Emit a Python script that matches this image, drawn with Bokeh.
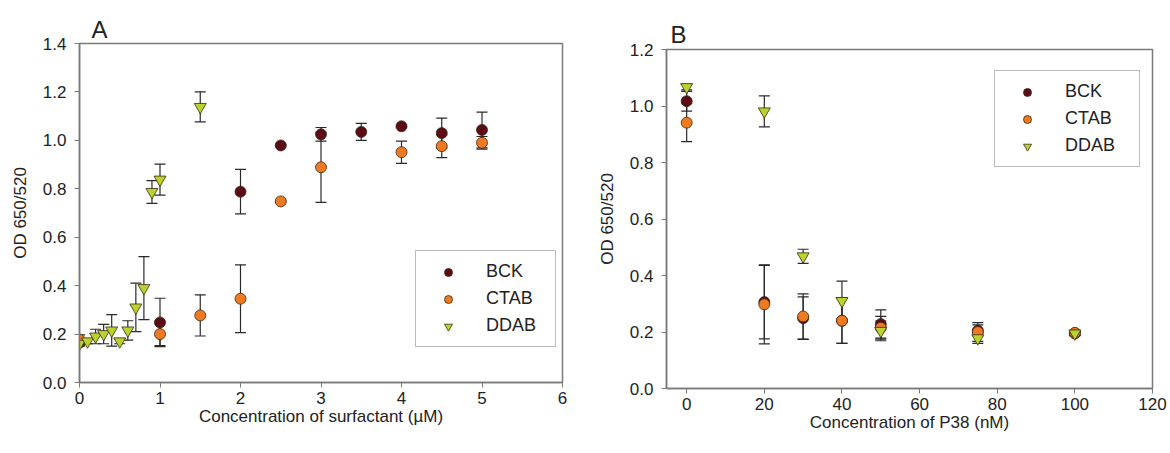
from bokeh.plotting import figure
from bokeh.layouts import row, column
from bokeh.models import (ColumnDataSource, Whisker, Legend, LegendItem,
                          FixedTicker, NumeralTickFormatter, Range1d)
from bokeh.embed import file_html
from bokeh.resources import INLINE

# ---------------- Data: panel A (surfactant, µM) ----------------
a_bck_x = [0, 1, 2, 2.5, 3, 3.5, 4, 4.5, 5]
a_bck_y = [0.165, 0.248, 0.788, 0.979, 1.025, 1.035, 1.058, 1.030, 1.043]
a_bck_e = [0.010, 0.100, 0.092, 0.004, 0.028, 0.035, 0.004, 0.062, 0.074]

a_ctab_x = [0, 1, 1.5, 2, 2.5, 3, 4, 4.5, 5]
a_ctab_y = [0.177, 0.200, 0.277, 0.346, 0.748, 0.889, 0.951, 0.976, 0.990]
a_ctab_e = [0.020, 0.048, 0.085, 0.140, 0.004, 0.145, 0.046, 0.047, 0.026]

a_ddab_x = [0, 0.1, 0.2, 0.3, 0.4, 0.5, 0.6, 0.7, 0.8, 0.9, 1.0, 1.5]
a_ddab_y = [0.160, 0.170, 0.190, 0.200, 0.215, 0.170, 0.215, 0.310, 0.390, 0.787, 0.838, 1.138]
a_ddab_e = [0.010, 0.010, 0.030, 0.040, 0.065, 0.010, 0.040, 0.100, 0.130, 0.047, 0.064, 0.062]

# ---------------- Data: panel B (P38, nM) ----------------
b_x = [0, 20, 30, 40, 50, 75, 100]
b_bck_y = [1.017, 0.306, 0.249, 0.240, 0.228, 0.205, 0.195]
b_bck_e = [0.035, 0.130, 0.075, 0.080, 0.050, 0.020, 0.008]
b_ctab_y = [0.941, 0.298, 0.255, 0.240, 0.215, 0.200, 0.197]
b_ctab_e = [0.067, 0.140, 0.080, 0.080, 0.040, 0.033, 0.008]
b_ddab_y = [1.067, 0.981, 0.468, 0.310, 0.204, 0.178, 0.195]
b_ddab_e = [0.010, 0.055, 0.025, 0.070, 0.035, 0.018, 0.008]

series_names = ["BCK", "CTAB", "DDAB"]
a_xticks = [0, 1, 2, 3, 4, 5, 6]
a_yticks = [0.0, 0.2, 0.4, 0.6, 0.8, 1.0, 1.2, 1.4]
b_xticks = [0, 20, 40, 60, 80, 100, 120]
b_yticks = [0.0, 0.2, 0.4, 0.6, 0.8, 1.0, 1.2]

# ---------------- Styling ----------------
FONT = "Liberation Sans"
COL = {"BCK": "#5c0b17", "CTAB": "#f07a22", "DDAB": "#b9d22c"}
MARK = {"BCK": "circle", "CTAB": "circle", "DDAB": "inverted_triangle"}
SIZE = {"BCK": 11, "CTAB": 11, "DDAB": 12}
FRAME = "#7a7a7a"


def make_panel(xr, yr, xticks, yticks, xlabel, letter, title_offset, title_valign,
               series, legend_loc, label_w, width, height, bl, br, bt, bb):
    p = figure(width=width, height=height, output_backend="svg",
               toolbar_location=None, x_range=Range1d(*xr), y_range=Range1d(*yr),
               min_border_left=bl, min_border_right=br,
               min_border_top=bt, min_border_bottom=bb)
    p.grid.visible = False
    p.outline_line_color = FRAME
    p.outline_line_width = 1.5
    for ax in (p.xaxis[0], p.yaxis[0]):
        ax.axis_line_color = FRAME
        ax.axis_line_width = 1.5
        ax.major_tick_line_color = FRAME
        ax.major_tick_in = 0
        ax.major_tick_out = 5
        ax.minor_tick_line_color = None
        ax.major_label_text_font = FONT
        ax.major_label_text_font_size = "17px"
        ax.major_label_text_color = "#222222"
        ax.axis_label_text_font = FONT
        ax.axis_label_text_font_size = "17px"
        ax.axis_label_text_font_style = "normal"
        ax.axis_label_text_color = "#222222"
    p.xaxis[0].ticker = FixedTicker(ticks=xticks)
    p.yaxis[0].ticker = FixedTicker(ticks=yticks)
    p.yaxis[0].formatter = NumeralTickFormatter(format="0.0")
    p.xaxis[0].axis_label = xlabel
    p.yaxis[0].axis_label = "OD 650/520"
    p.xaxis[0].major_label_standoff = 4
    p.yaxis[0].major_label_standoff = 8
    p.xaxis[0].axis_label_standoff = 0
    p.yaxis[0].axis_label_standoff = 10

    p.title.text = letter
    p.title.text_font = FONT
    p.title.text_font_size = "24px"
    p.title.text_font_style = "normal"
    p.title.text_color = "#222222"
    p.title.align = "left"
    p.title.offset = title_offset
    p.title.vertical_align = title_valign
    p.title.standoff = 2

    items = []
    for name, (xs, ys, es) in zip(series_names, series):
        src = ColumnDataSource(dict(x=xs, y=ys,
                                    lo=[y - e for y, e in zip(ys, es)],
                                    hi=[y + e for y, e in zip(ys, es)]))
        w = Whisker(base="x", upper="hi", lower="lo", source=src,
                    line_color="#2a2a2a", line_width=1.2, level="underlay")
        for h in (w.upper_head, w.lower_head):
            h.size = 11
            h.line_color = "#2a2a2a"
            h.line_width = 1.2
        p.add_layout(w)
    for name, (xs, ys, es) in zip(series_names, series):
        src = ColumnDataSource(dict(x=xs, y=ys))
        r = p.scatter("x", "y", source=src, marker=MARK[name], size=SIZE[name],
                      fill_color=COL[name], line_color="#3a2a10", line_width=0.8)
        items.append(LegendItem(label=name, renderers=[r]))

    leg = Legend(items=items, location=legend_loc, orientation="vertical",
                 border_line_color=FRAME, border_line_width=1.5,
                 background_fill_alpha=1.0, padding=10, spacing=6,
                 glyph_width=44, glyph_height=20, label_height=20,
                 label_standoff=16, label_width=label_w,
                 label_text_font=FONT, label_text_font_size="18px",
                 label_text_color="#222222", margin=0)
    p.add_layout(leg)
    return p


pa = make_panel((0, 6), (0, 1.4), a_xticks, a_yticks,
                "Concentration of surfactant (\u00b5M)", "A", 12, "bottom",
                [(a_bck_x, a_bck_y, a_bck_e), (a_ctab_x, a_ctab_y, a_ctab_e),
                 (a_ddab_x, a_ddab_y, a_ddab_e)],
                (336, 35), 59, 585, 453, 79, 23, 43, 71)

pb = make_panel((-5.2, 120), (0, 1.2), b_xticks, b_yticks,
                "Concentration of P38 (nM)", "B", 4, "middle",
                [(b_x, b_bck_y, b_bck_e), (b_x, b_ctab_y, b_ctab_e),
                 (b_x, b_ddab_y, b_ddab_e)],
                (328, 221), 64, 585, 453, 81, 18, 49, 65)

layout = row(pa, column(pb))
open("out.html", "w").write(file_html(layout, INLINE))
